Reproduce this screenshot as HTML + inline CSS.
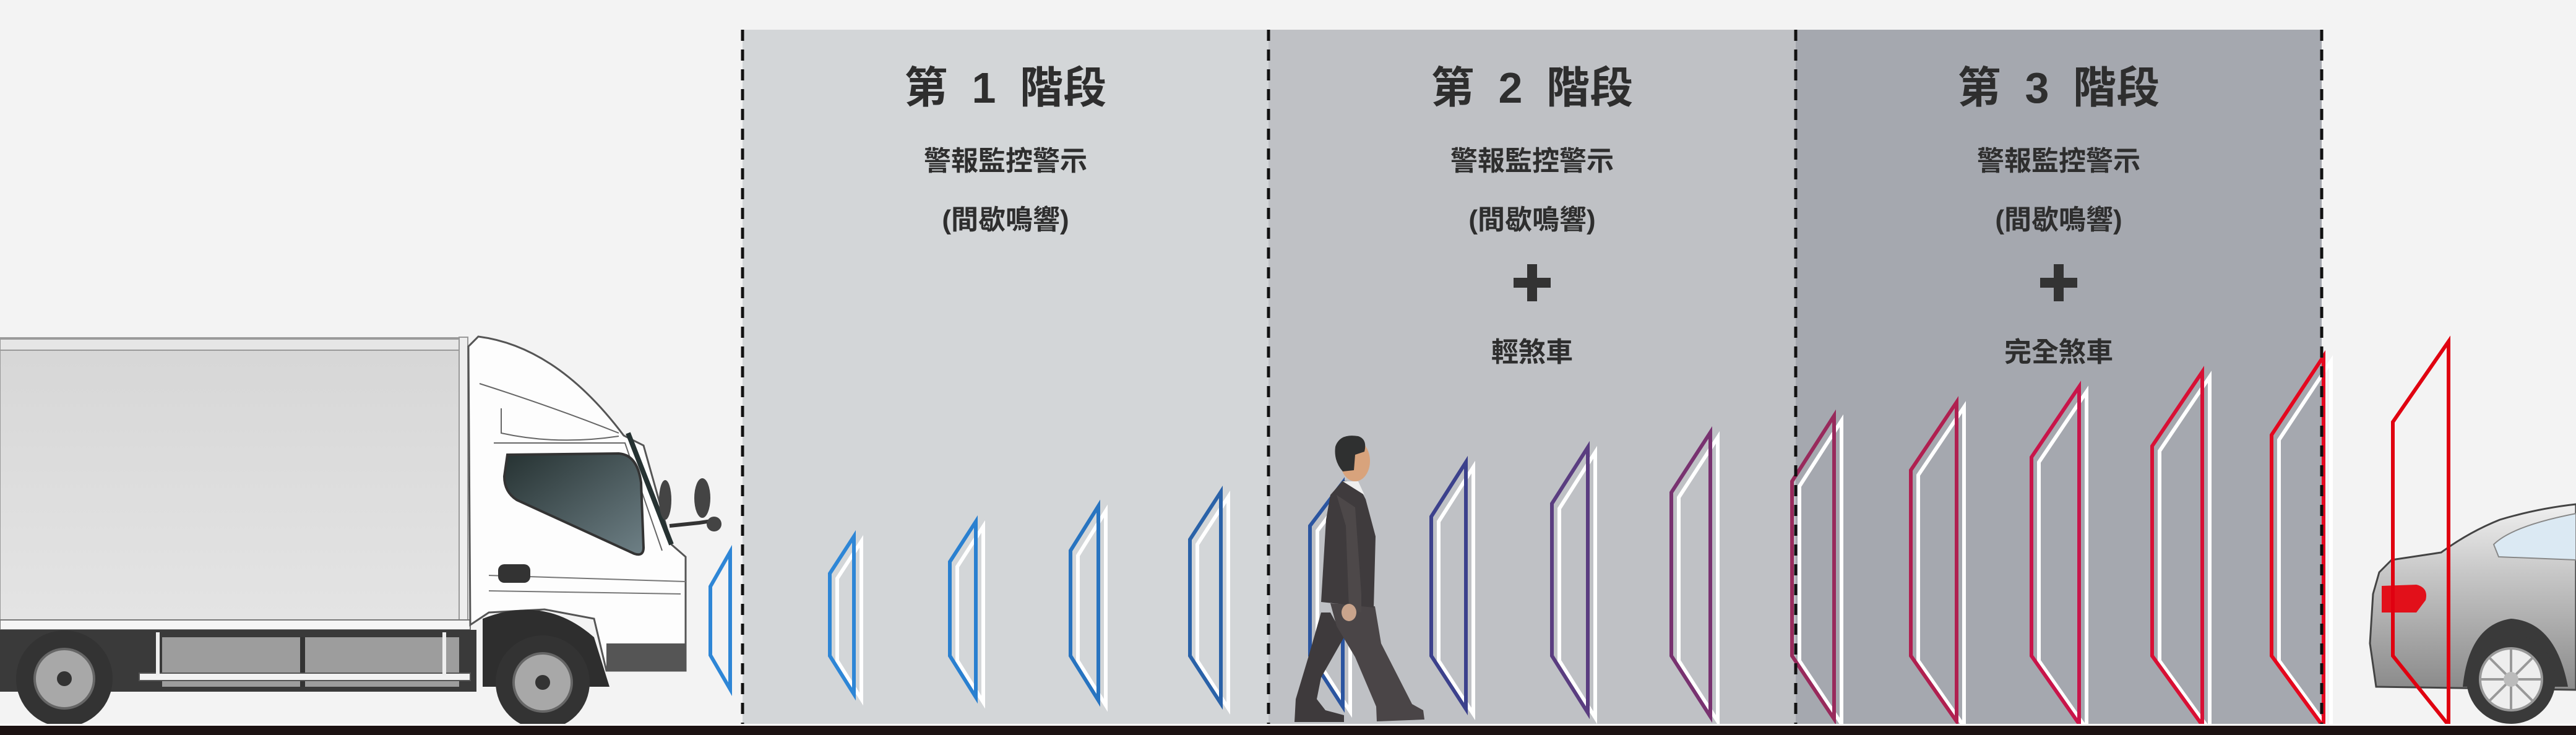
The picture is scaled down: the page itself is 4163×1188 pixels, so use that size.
<!DOCTYPE html>
<html><head><meta charset="utf-8"><style>
html,body{margin:0;padding:0;background:#f3f3f3;}
svg{display:block;}
text{font-family:"Liberation Sans","Noto Sans CJK TC",sans-serif;fill:#2e2e2e;text-anchor:middle;}
</style></head><body>
<svg width="4163" height="1188" viewBox="0 0 4163 1188" xmlns="http://www.w3.org/2000/svg">
<defs>
<linearGradient id="box" x1="0" y1="0" x2="0" y2="1"><stop offset="0" stop-color="#d6d6d6"/><stop offset="1" stop-color="#e4e4e4"/></linearGradient>
<linearGradient id="win" x1="0" y1="0" x2="1" y2="1"><stop offset="0" stop-color="#263232"/><stop offset="1" stop-color="#6e8086"/></linearGradient>
<linearGradient id="car" x1="0" y1="0" x2="0" y2="1"><stop offset="0" stop-color="#f0f0f0"/><stop offset="0.4" stop-color="#c4c4c4"/><stop offset="1" stop-color="#8a8a8a"/></linearGradient>
</defs>
<rect width="4163" height="1188" fill="#f3f3f3"/>
<rect x="1200" y="48" width="850" height="1124" fill="#d3d6d8"/>
<rect x="2050" y="48" width="852" height="1124" fill="#bfc1c5"/>
<rect x="2902" y="48" width="850" height="1124" fill="#a5a8af"/>

<g font-weight="bold" font-size="70">
<text x="1625" y="166">第&#160;&#160;1&#160;&#160;階段</text>
<text x="2476" y="166">第&#160;&#160;2&#160;&#160;階段</text>
<text x="3327" y="166">第&#160;&#160;3&#160;&#160;階段</text>
</g>
<g font-size="44" font-weight="bold">
<text x="1625" y="275">警報監控警示</text>
<text x="2476" y="275">警報監控警示</text>
<text x="3327" y="275">警報監控警示</text>
<text x="1625" y="370">(間歇鳴響)</text>
<text x="2476" y="370">(間歇鳴響)</text>
<text x="3327" y="370">(間歇鳴響)</text>
<text x="2476" y="584">輕煞車</text>
<text x="3327" y="584">完全煞車</text>
</g>
<g fill="#333">
<rect x="2446" y="449" width="60" height="16"/><rect x="2468" y="427" width="16" height="60"/>
<rect x="3297" y="449" width="60" height="16"/><rect x="3319" y="427" width="16" height="60"/>
</g>

<g>
<rect x="0" y="546" width="750" height="456" fill="url(#box)" stroke="#9a9a9a" stroke-width="2"/>
<rect x="0" y="548" width="745" height="18" fill="#e6e6e6" stroke="#999" stroke-width="2"/>
<rect x="742" y="545" width="14" height="460" fill="#eee" stroke="#999" stroke-width="2"/>
<rect x="0" y="1002" width="760" height="16" fill="#f5f5f5" stroke="#777" stroke-width="2"/>
<rect x="0" y="1018" width="770" height="100" fill="#3a3a3a"/>
<rect x="262" y="1030" width="480" height="80" fill="#9d9d9d"/>
<rect x="485" y="1030" width="8" height="80" fill="#333"/>
<rect x="225" y="1088" width="535" height="12" fill="#f2f2f2" stroke="#555" stroke-width="2"/>
<rect x="252" y="1022" width="6" height="70" fill="#eee"/><rect x="715" y="1022" width="6" height="70" fill="#eee"/>
<path d="M773,544 Q900,560 1008,704 L1040,720 L1085,880 L1108,900 L1108,1084 L980,1084 L960,1000 L880,985 L790,990 L760,1010 L757,560 Z" fill="#fdfdfd" stroke="#555" stroke-width="3"/>
<path d="M775,620 Q900,660 1000,700" fill="none" stroke="#666" stroke-width="2"/>
<path d="M810,660 L810,700 Q900,720 1000,705" fill="none" stroke="#666" stroke-width="2"/>
<path d="M798,716 L1010,716 L1070,890" fill="none" stroke="#666" stroke-width="2"/>
<path d="M820,735 L1000,733 Q1030,735 1036,780 L1040,885 Q1040,900 1025,895 L835,808 Q815,795 815,770 Z" fill="url(#win)" stroke="#333" stroke-width="4"/>
<path d="M1015,700 L1085,880" stroke="#263232" stroke-width="8"/>
<path d="M790,930 L1108,940 M790,955 L1100,960" stroke="#777" stroke-width="2"/>
<rect x="805" y="912" width="52" height="30" rx="10" fill="#333"/>
<ellipse cx="1075" cy="808" rx="10" ry="32" fill="#444"/>
<ellipse cx="1135" cy="805" rx="13" ry="32" fill="#444"/>
<path d="M1082,850 L1130,845 L1150,842" stroke="#333" stroke-width="6" fill="none"/>
<circle cx="1154" cy="847" r="12" fill="#444"/>
<rect x="980" y="1040" width="128" height="44" fill="#555"/>
<path d="M780,1110 L780,1000 Q880,960 960,1030 L985,1110 Z" fill="#2e2e2e"/>
<circle cx="104" cy="1097" r="78" fill="#333"/>
<circle cx="104" cy="1097" r="48" fill="#a8a8a8" stroke="#666" stroke-width="4"/>
<circle cx="104" cy="1097" r="12" fill="#333"/>
<circle cx="877" cy="1103" r="76" fill="#333"/>
<circle cx="877" cy="1103" r="47" fill="#a8a8a8" stroke="#666" stroke-width="4"/>
<circle cx="877" cy="1103" r="12" fill="#333"/>
</g>

<g>
<path d="M3840,1110 L3830,1040 L3835,960 L3845,925 L3865,905 L3945,893 Q3990,860 4040,840 Q4100,822 4163,815 L4163,1115 Z" fill="url(#car)" stroke="#444" stroke-width="3"/>
<path d="M4030,880 Q4060,850 4163,830 L4163,905 L4038,900 Z" fill="#dbe9f3" stroke="#888" stroke-width="2"/>
<path d="M3849,947 L3905,945 Q3925,950 3920,970 L3905,990 L3849,990 Z" fill="#e2101a"/>
<path d="M3980,1110 Q3990,1010 4058,1000 Q4130,1005 4150,1110 Z" fill="#3a3a3a"/>
<circle cx="4058" cy="1098" r="72" fill="#3a3a3a"/>
<circle cx="4058" cy="1098" r="50" fill="#eee" stroke="#999" stroke-width="4"/>
<g stroke="#999" stroke-width="4"><line x1="4008" y1="1098" x2="4108" y2="1098"/><line x1="4058" y1="1048" x2="4058" y2="1148"/><line x1="4023" y1="1063" x2="4093" y2="1133"/><line x1="4093" y1="1063" x2="4023" y2="1133"/></g>
<circle cx="4058" cy="1098" r="12" fill="#bbb"/>
</g>

<g fill="none" stroke-width="6" stroke-linejoin="miter">
<g stroke="#ffffff" transform="translate(12,8)">
<polygon points="1380,867 1341,927 1341,1060 1380,1122"/>
<polygon points="1577,843 1535,908 1535,1060 1577,1127"/>
<polygon points="1775,818 1730,890 1730,1060 1775,1132"/>
<polygon points="1973,795 1923,872 1923,1060 1973,1137"/>
<polygon points="2170,780 2117,850 2117,1060 2170,1142"/>
<polygon points="2369,747 2313,835 2313,1060 2369,1146"/>
<polygon points="2566,723 2508,814 2508,1060 2566,1152"/>
<polygon points="2764,699 2701,796 2701,1060 2764,1158"/>
<polygon points="2964,672 2896,778 2896,1060 2964,1162"/>
<polygon points="3162,650 3088,760 3088,1060 3162,1166"/>
<polygon points="3360,625 3283,739 3283,1060 3360,1170"/>
<polygon points="3559,601 3478,721 3478,1060 3559,1172"/>
<polygon points="3755,576 3671,703 3671,1060 3755,1175"/>
</g>
<polygon points="1180,892 1148,948 1148,1059 1180,1114" stroke="#2e86d6"/>
<polygon points="1380,867 1341,927 1341,1060 1380,1122" stroke="#2e86d6"/>
<polygon points="1577,843 1535,908 1535,1060 1577,1127" stroke="#2a80d0"/>
<polygon points="1775,818 1730,890 1730,1060 1775,1132" stroke="#2874c0"/>
<polygon points="1973,795 1923,872 1923,1060 1973,1137" stroke="#2a62a8"/>
<polygon points="2170,780 2117,850 2117,1060 2170,1142" stroke="#2b55a0"/>
<polygon points="2369,747 2313,835 2313,1060 2369,1146" stroke="#3c418c"/>
<polygon points="2566,723 2508,814 2508,1060 2566,1152" stroke="#5a3d80"/>
<polygon points="2764,699 2701,796 2701,1060 2764,1158" stroke="#783270"/>
<polygon points="2964,672 2896,778 2896,1060 2964,1162" stroke="#982a5c"/>
<polygon points="3162,650 3088,760 3088,1060 3162,1166" stroke="#b02050"/>
<polygon points="3360,625 3283,739 3283,1060 3360,1170" stroke="#c8154a"/>
<polygon points="3559,601 3478,721 3478,1060 3559,1172" stroke="#d81035"/>
<polygon points="3755,576 3671,703 3671,1060 3755,1175" stroke="#e4081f"/>
<polygon points="3957,552 3867,682 3867,1060 3957,1172" stroke="#e00010"/>
</g>

<g>
<path d="M2150,990 L2172,1030 L2135,1095 L2128,1130 L2142,1148 L2172,1156 L2172,1167 L2092,1167 L2094,1130 L2115,1060 L2135,990 Z" fill="#3e3a3c"/>
<path d="M2150,975 L2222,980 L2232,1040 L2282,1138 L2300,1148 L2302,1163 L2225,1166 L2224,1142 L2190,1062 L2160,1012 Z" fill="#4a4547"/>
<path d="M2170,777 L2150,800 L2143,840 L2135,973 L2220,982 L2223,867 L2207,807 L2193,780 Z" fill="#3f3b3d"/>
<path d="M2160,800 L2175,850 L2180,985 L2200,990 L2200,960 L2190,820 Z" fill="#4d4849"/>
<ellipse cx="2180" cy="990" rx="12" ry="14" fill="#c9a48c"/>
<path d="M2170,778 L2195,778 L2205,800 Z" fill="#eee"/>
<ellipse cx="2190" cy="745" rx="24" ry="33" fill="#d8a37c"/>
<path d="M2158,722 Q2165,700 2195,705 Q2210,710 2205,730 L2190,735 L2188,760 L2170,762 Q2155,745 2158,722 Z" fill="#2f3030"/>
</g>

<g stroke="#111" stroke-width="5" stroke-dasharray="18 14">
<line x1="1200" y1="48" x2="1200" y2="1172"/>
<line x1="2050" y1="48" x2="2050" y2="1172"/>
<line x1="2902" y1="48" x2="2902" y2="1172"/>
<line x1="3752" y1="48" x2="3752" y2="1172"/>
</g>
<rect x="0" y="1170" width="4163" height="4" fill="#ffffff"/>
<rect x="0" y="1173" width="4163" height="15" fill="#1c1212"/>
</svg>
</body></html>
